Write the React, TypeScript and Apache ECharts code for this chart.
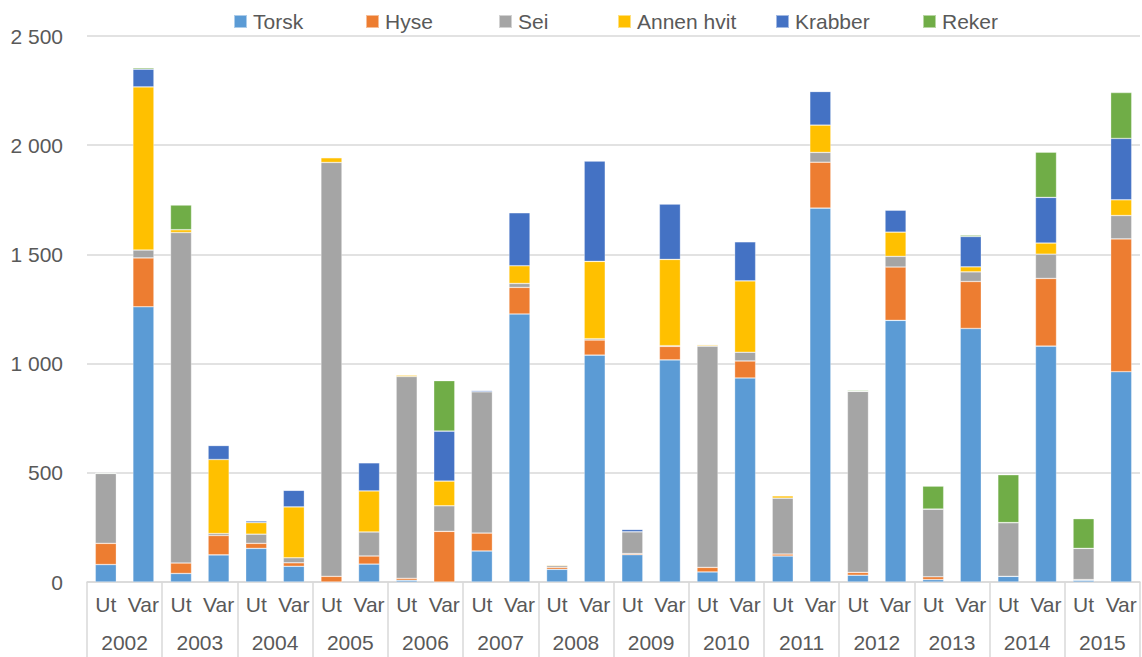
import React, { useEffect, useRef } from "react";
import * as echarts from "echarts";

const years = ["2002", "2003", "2004", "2005", "2006", "2007", "2008", "2009", "2010", "2011", "2012", "2013", "2014", "2015"];
const halves = ["Ut", "Var"];
const categories = years.flatMap((y) => halves.map((h) => `${h} ${y}`));

const seriesNames = ["Torsk", "Hyse", "Sei", "Annen hvit", "Krabber", "Reker"];
const colors = ["#5b9bd5", "#ed7d31", "#a5a5a5", "#ffc000", "#4472c4", "#70ad47"];

const torsk = [80, 1260, 39, 124, 154, 72, 0, 82, 8, 0, 142, 1227, 58, 1039, 125, 1017, 46, 934, 119, 1712, 31, 1198, 11, 1161, 26, 1080, 8, 963];
const hyse = [97, 224, 48, 89, 23, 16, 26, 37, 9, 232, 82, 122, 9, 69, 5, 62, 21, 78, 9, 210, 13, 244, 13, 215, 0, 310, 3, 608];
const sei = [320, 36, 1513, 9, 42, 23, 1895, 110, 924, 117, 647, 18, 8, 6, 100, 3, 1013, 40, 256, 45, 829, 49, 310, 44, 246, 111, 143, 107];
const annenHvit = [0, 747, 13, 339, 53, 233, 22, 188, 7, 113, 0, 81, 4, 354, 0, 395, 5, 327, 11, 125, 0, 111, 0, 23, 0, 51, 0, 72];
const krabber = [0, 81, 0, 64, 8, 76, 0, 129, 0, 229, 6, 243, 0, 460, 11, 254, 3, 179, 0, 154, 0, 101, 0, 139, 0, 209, 0, 281];
const reker = [3, 6, 113, 0, 0, 0, 0, 0, 0, 231, 0, 0, 0, 0, 0, 0, 0, 0, 0, 0, 4, 0, 105, 6, 219, 207, 136, 210];

const seriesData = [torsk, hyse, sei, annenHvit, krabber, reker];
const legendLefts = [228, 360, 493, 612, 770, 917];

const FONT = "'Liberation Sans', Arial, sans-serif";
const TEXT = "#595959";
const GRID = "#d9d9d9";

export default function App() {
  const ref = useRef<HTMLDivElement>(null);

  useEffect(() => {
    if (!ref.current) return;
    const chart = echarts.init(ref.current, undefined, { renderer: "svg" });
    const option: any = {
      animation: false,
      textStyle: { fontFamily: FONT },
      legend: seriesNames.map((name, i) => ({
        data: [name],
        left: legendLefts[i],
        top: 6,
        icon: "rect",
        itemWidth: 13,
        itemHeight: 13,
        selectedMode: false,
        textStyle: { fontSize: 21, color: TEXT, fontFamily: FONT, padding: [0, 0, 0, 1] },
      })),
      grid: { left: 87, right: 2, top: 36, bottom: 75, containLabel: false },
      xAxis: [
        {
          type: "category",
          data: categories,
          position: "bottom",
          axisLine: { show: true, lineStyle: { color: GRID, width: 1.5 } },
          axisTick: {
            show: true,
            interval: (idx: number) => idx % 2 === 0,
            length: 75,
            lineStyle: { color: GRID, width: 1.5 },
          },
          axisLabel: {
            interval: 0,
            margin: 12,
            fontSize: 21,
            color: TEXT,
            fontFamily: FONT,
            formatter: (v: string) => v.split(" ")[0],
          },
          splitLine: { show: false },
        },
        {
          type: "category",
          data: years,
          position: "bottom",
          offset: 38,
          axisLine: { show: false },
          axisTick: { show: false },
          axisLabel: { interval: 0, margin: 12, fontSize: 21, color: TEXT, fontFamily: FONT },
          splitLine: { show: false },
        },
      ],
      yAxis: {
        type: "value",
        min: 0,
        max: 2500,
        interval: 500,
        axisLine: { show: false },
        axisTick: { show: false },
        axisLabel: {
          margin: 24,
          fontSize: 21,
          color: TEXT,
          fontFamily: FONT,
          formatter: (v: number) => String(v).replace(/\B(?=(\d{3})+(?!\d))/g, " "),
        },
        splitLine: { lineStyle: { color: GRID, width: 1.5 } },
      },
      series: seriesNames.map((name, i) => ({
        name,
        type: "bar",
        stack: "total",
        xAxisIndex: 0,
        barWidth: "56%",
        data: seriesData[i],
        itemStyle: { color: colors[i], borderColor: "rgba(255,255,255,0.5)", borderWidth: 0.6 },
      })),
    };
    chart.setOption(option);
    return () => chart.dispose();
  }, []);

  return (
    <div
      ref={ref}
      style={{ position: "fixed", left: 0, top: 0, width: 1142, height: 657, background: "#fff" }}
    />
  );
}
